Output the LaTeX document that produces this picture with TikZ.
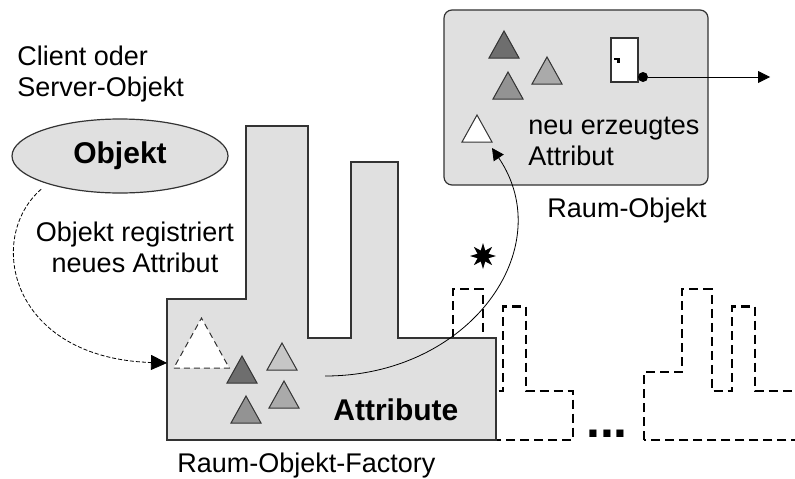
\documentclass[tikz,border=0pt]{standalone}
\usepackage{fontspec}
\setmainfont{Liberation Sans}
\usetikzlibrary{positioning, shapes.geometric, arrows.meta}
\definecolor{bgGray}{HTML}{E0E0E0}
\definecolor{lineGray}{HTML}{333333}
\definecolor{triDark}{HTML}{6E6E6E}
\definecolor{triMid}{HTML}{939393}
\definecolor{triSoft}{HTML}{AAAAAA}
\definecolor{triPale}{HTML}{C6C6C6}
\tikzset{
    Arrow/.style = {thin, -{Triangle[length=6pt, width=6pt]}},
    DashArrow/.style = {thin, dash pattern=on 2pt off 1pt,
        -{Triangle[length=8pt, width=7.5pt]}},
    Ghost/.style = {draw=black, line width=1.1pt, dash pattern=on 4.5pt off 2.5pt, scale=0.48},
    Txt/.style = {inner sep=0pt, align=left,
        font=\fontsize{13.5}{15.5}\selectfont},
    BoldTxt/.style = {inner sep=0pt, font=\fontsize{15}{18}\selectfont\bfseries},
    attr/.pic = {
        \filldraw[pic actions, draw=lineGray, line width=0.5pt]
            (-15,0) -- (15,0) -- (0,27) -- cycle;
        \coordinate (-foot) at (15,-6);
    },
    factory/.pic = {
        \draw[pic actions] (0,0) -- (0,141) -- (79,141) -- (79,314) -- (141,314)
            -- (141,102) -- (184,102) -- (184,278) -- (231,278) -- (231,102)
            -- (329,102) -- (329,0) -- cycle;
    }
}

\begin{document}
\begin{tikzpicture}[x=0.5pt, y=0.5pt]
    \useasboundingbox (0,0) rectangle (795,478);
    \clip (0,0) rectangle (795,478);

    % further factories
    \pic[Ghost] at (415,38) {factory};
    \pic[Ghost] at (644,38) {factory};
    \node[font=\fontsize{25}{25}\selectfont\bfseries, anchor=base, inner sep=0pt] (more) at (607,41) {...};

    % the factory
    \pic[draw=lineGray, fill=bgGray, line width=0.9pt] at (167,38) {factory};
    \pic[fill=white, dash pattern=on 3pt off 2pt, scale=1.85] (pending) at (201.5,110) {attr};
    \pic[fill=triDark] (fDark) at (242,95) {attr};
    \pic[fill=triPale] (fPale) at (282,108) {attr};
    \pic[fill=triSoft] (fSoft) at (284,70) {attr};
    \pic[fill=triMid] (fMid) at (246,55) {attr};
    \node[BoldTxt, anchor=base west] (attribute) at (333,58) {Attribute};
    \node[Txt, anchor=base west] (factoryLabel) at (177,5.5) {Raum-Objekt-Factory};

    % client / server
    \node[Txt, anchor=north west] (client) at (17,432) {Client oder\\Server-Objekt};
    \node[ellipse, draw=lineGray, fill=bgGray, line width=0.6pt, inner sep=0pt,
        minimum width=108pt, minimum height=37pt, font=\fontsize{15}{18}\selectfont\bfseries]
        (objekt) at (120,322) {Objekt};
    \node[Txt, align=center, anchor=north] (register) at (135,256) {Objekt registriert\\neues Attribut};

    % room object
    \draw[draw=lineGray, fill=bgGray, line width=0.6pt, rounded corners=4pt] (444,293) rectangle (708,468);
    \pic[fill=triDark] (rDark) at (504,420) {attr};
    \pic[fill=triMid] (rMid) at (508,379) {attr};
    \pic[fill=triSoft] (rSoft) at (547,394) {attr};
    \pic[fill=white] (newAttr) at (477,336) {attr};
    \node[Txt, anchor=north west] (neu) at (528,361) {neu erzeugtes\\Attribut};
    \node[Txt, anchor=base] (raumLabel) at (627,261) {Raum-Objekt};
    \node[draw=lineGray, fill=white, line width=0.6pt, inner sep=0pt,
        minimum width=13.5pt, minimum height=22pt] (door) at (624.5,418) {};
    \fill (614,418) rectangle (620,420);
    \fill (616.5,415) rectangle (620,420);
    \node[circle, fill=black, inner sep=0pt, minimum size=5pt] (knob) at (643,401) {};
    \coordinate (exit) at (770,401);

    % connectors
    \coordinate (fIn) at (167,115);
    \coordinate (arcStart) at (325,102);
    \draw[DashArrow, shorten <=4pt] (objekt.201) .. controls (-15,240) and (10,120) .. (fIn);
    \draw[Arrow] (arcStart) .. controls (470,102) and (560,230) .. (newAttr-foot);
    \draw[Arrow] (knob) -- (exit);
    \node[star, star points=8, star point ratio=2.2, fill=black, inner sep=0pt,
        minimum size=13pt] (spark) at (483,222) {};
\end{tikzpicture}
\end{document}
